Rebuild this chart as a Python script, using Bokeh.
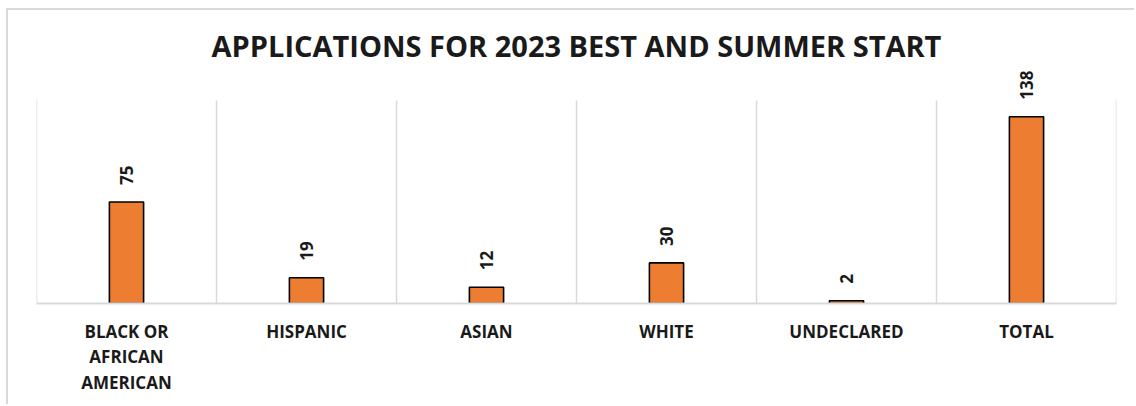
from bokeh.plotting import figure
from bokeh.models import ColumnDataSource, LabelSet, FactorRange, Range1d
from bokeh.core.properties import value
from bokeh.embed import file_html
from bokeh.resources import INLINE

categories = ["BLACK OR\nAFRICAN\nAMERICAN", "HISPANIC", "ASIAN", "WHITE", "UNDECLARED", "TOTAL"]
values = [75, 19, 12, 30, 2, 138]
axis_max = 150
title_text = "APPLICATIONS FOR 2023 BEST AND SUMMER START"

src = ColumnDataSource(dict(cat=categories, val=values, lab=[str(v) for v in values]))
n = len(categories)
grid_src = ColumnDataSource(dict(x=list(range(n + 1)), y0=[0] * (n + 1), y1=[axis_max] * (n + 1)))

p = figure(width=1128, height=396, x_range=FactorRange(*categories), y_range=Range1d(0, 176.6),
           output_backend="svg", toolbar_location=None,
           min_border_left=28, min_border_right=20, min_border_top=54, min_border_bottom=103)
p.styles = {"border-top": "2px solid #d9d9d9", "border-left": "2px solid #d9d9d9",
            "margin-top": "8px", "margin-left": "6px"}

p.title.text = title_text
p.title.align = "center"
p.title.text_font = "Open Sans"
p.title.text_font_size = "29px"
p.title.text_font_style = "bold"
p.title.text_color = "#1a1a1a"
p.title.standoff = 0

p.segment(x0="x", y0="y0", x1="x", y1="y1", source=grid_src, line_color="#d9d9d9", line_width=1.5)

p.vbar(x="cat", top="val", width=0.19, source=src, fill_color="#ED7D31", line_color="black", line_width=1.6)

labels = LabelSet(x="cat", y="val", text="lab", source=src, angle=1.5708, x_offset=0, y_offset=17,
                  text_align="left", text_baseline="middle", text_font=value("Open Sans"),
                  text_font_size="17px", text_font_style="bold", text_color="#1a1a1a")
p.add_layout(labels)

p.xgrid.visible = False
p.ygrid.visible = False
p.yaxis.visible = False
p.outline_line_color = None
p.xaxis.axis_line_color = "#d9d9d9"
p.xaxis.axis_line_width = 2
p.xaxis.major_tick_line_color = None
p.xaxis.minor_tick_line_color = None
p.xaxis.major_label_text_font = "Open Sans"
p.xaxis.major_label_text_font_size = "17px"
p.xaxis.major_label_text_font_style = "bold"
p.xaxis.major_label_text_color = "#1a1a1a"
p.xaxis.major_label_text_line_height = 1.13
p.xaxis.major_label_standoff = 10

open("out.html", "w").write(file_html(p, INLINE))
